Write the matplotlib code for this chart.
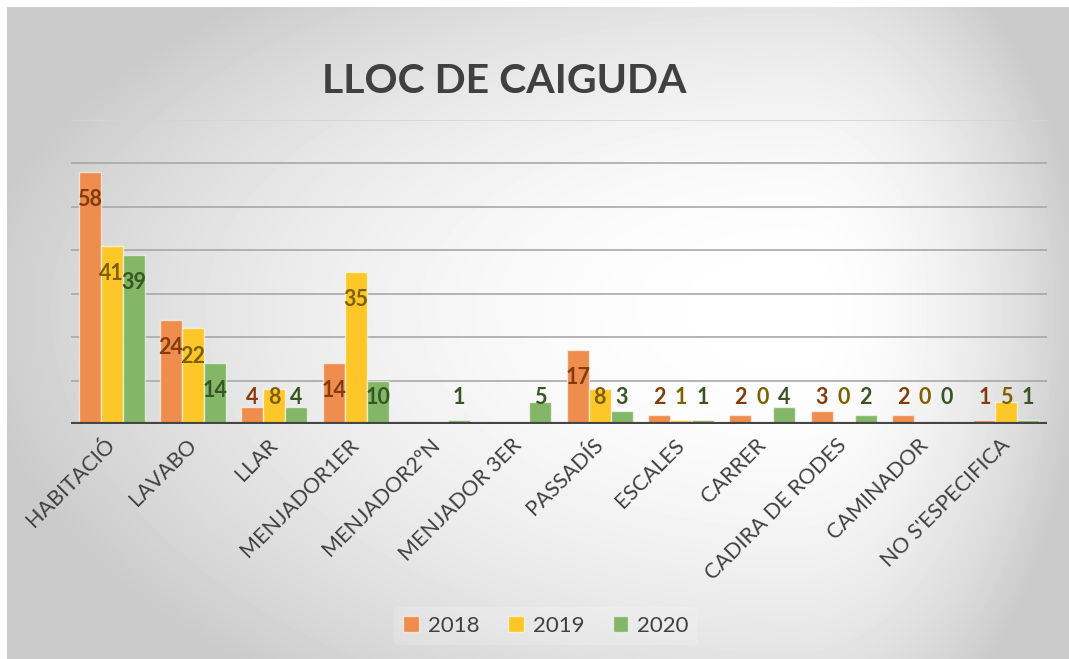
import numpy as np
import matplotlib.pyplot as plt
from matplotlib.patches import Patch

categories = ["HABITACIÓ", "LAVABO", "LLAR", "MENJADOR1ER", "MENJADOR2ºN", "MENJADOR 3ER",
              "PASSADÍS", "ESCALES", "CARRER", "CADIRA DE RODES", "CAMINADOR", "NO S'ESPECIFICA"]
years = ["2018", "2019", "2020"]
# None = empty cell (no bar, no label)
v2018 = [58, 24, 4, 14, None, None, 17, 2, 2, 3, 2, 1]
v2019 = [41, 22, 8, 35, None, None, 8, 1, 0, 0, 0, 5]
v2020 = [39, 14, 4, 10, 1, 5, 3, 1, 4, 2, 0, 1]

bar_colors = ["#EF8D4F", "#FDC72A", "#83B767"]
label_colors = ["#843C0C", "#7F6000", "#375623"]
text_gray = "#404040"
W, H = 1069, 659

plt.rcParams['font.family'] = ['Lato', 'DejaVu Sans']

fig = plt.figure(figsize=(W / 100, H / 100), dpi=100)
fig.patch.set_facecolor("white")

# background: soft gradient, white spot upper right of centre, gray edges
bg = fig.add_axes([7 / W, 0, 1 - 7 / W, 1 - 7 / H])
bw, bh = W - 7, H - 7
xx, yy = np.meshgrid(np.arange(bw), np.arange(bh))
cx, cy = 790, 300
tx = np.where(xx < cx, (cx - xx) / cx, (xx - cx) / (bw - cx))
ty = np.where(yy < cy, (cy - yy) / cy, (yy - cy) / (bh - cy))
dark = np.minimum(48 * tx ** 2 + 28 * ty ** 2, 52)
shade = (255 - dark) / 255
bg.imshow(shade, cmap="gray", vmin=0, vmax=1, aspect="auto", interpolation="bilinear")
bg.axis("off")

ax = fig.add_axes([71 / W, 235 / H, 976 / W, 304 / H])
ax.patch.set_alpha(0)
x = np.arange(len(categories))
bw_ = 0.27
series = [v2018, v2019, v2020]
for i, vals in enumerate(series):
    xs = x + (i - 1) * bw_
    hv = [np.nan if v is None else v for v in vals]
    ax.bar(xs, hv, width=bw_, color=bar_colors[i], edgecolor=(1, 1, 1, 0.6),
           linewidth=1, zorder=3)
    for xi, v in zip(xs, vals):
        if v is None:
            continue
        ax.text(xi, max(v - 6.4, 6.2), str(v), ha="center", va="center",
                fontsize=15.5, fontweight="bold", color=label_colors[i], zorder=4)

ax.set_xlim(-0.5, len(categories) - 0.5)
ax.set_ylim(0, 70)
ax.set_yticks(np.arange(0, 71, 10))
ax.yaxis.grid(True, color="#a8a8a8", linewidth=1.2, zorder=0)
ax.get_ygridlines()[-1].set_color("#d4d4d4")
ax.axhline(0, color="#454545", linewidth=3, zorder=5)
ax.tick_params(axis="y", left=False, labelleft=False)
ax.tick_params(axis="x", length=0, pad=13)
ax.set_xticks(x)
ax.set_xticklabels(categories, rotation=45, ha="right", va="center",
                   rotation_mode="anchor", fontsize=15.5, color=text_gray)
for s in ax.spines.values():
    s.set_visible(False)

handles = [Patch(facecolor=c, edgecolor=(1, 1, 1, 0.6)) for c in bar_colors]
leg = ax.legend(handles, years, loc="center", bbox_to_anchor=(546 / W, 1 - 626 / H),
                bbox_transform=fig.transFigure, ncol=3, frameon=True,
                facecolor="white", framealpha=0.18, edgecolor="none", fontsize=16,
                handlelength=0.7, handleheight=0.7, columnspacing=1.3,
                handletextpad=0.4)
for tx_ in leg.get_texts():
    tx_.set_color(text_gray)

fig.text(504 / W, 1 - 93 / H, "LLOC DE CAIGUDA", ha="center", va="baseline",
         fontsize=29.5, fontweight="bold", color=text_gray)

fig.savefig("out.png", dpi=100)
